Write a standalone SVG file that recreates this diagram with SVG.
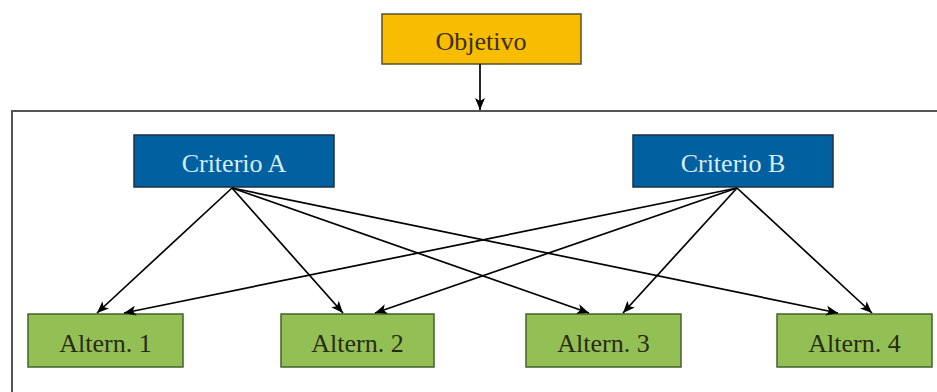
<svg xmlns="http://www.w3.org/2000/svg" width="937" height="392" viewBox="0 0 937 392">
<defs>
<marker id="ah" viewBox="0 0 12 10" refX="12" refY="5" markerWidth="12" markerHeight="10" markerUnits="userSpaceOnUse" orient="auto">
<path d="M0,0 L12,5 L0,10 L3,5 Z" fill="#000"/>
</marker>
<style>
.t{font-family:"Liberation Serif","DejaVu Serif",serif;font-size:26px;text-anchor:middle}
.obj{fill:#F8BC00;stroke:#5a5030;stroke-width:1.5}
.cri{fill:#0060A0;stroke:#1c3046;stroke-width:1.5}
.alt{fill:#93C054;stroke:#45622a;stroke-width:1.5}
.c line{stroke:#000;stroke-width:1.7;marker-end:url(#ah)}
</style>
</defs>
<rect width="937" height="392" fill="#fff"/>
<path d="M12,392 L12,111 L937,111" fill="none" stroke="#555" stroke-width="2"/>
<g id="objetivo"><rect class="obj" x="382" y="14" width="199" height="50"/><text class="t" x="481" y="50" fill="#3a3000">Objetivo</text></g>
<g id="criterioA"><rect class="cri" x="134" y="135" width="200" height="52"/><text class="t" x="234" y="172" fill="#d6ecf8">Criterio A</text></g>
<g id="criterioB"><rect class="cri" x="633" y="135" width="200" height="52"/><text class="t" x="733" y="172" fill="#d6ecf8">Criterio B</text></g>
<g id="alt1"><rect class="alt" x="28" y="314" width="155" height="53"/><text class="t" x="105.5" y="352" fill="#2a2a10">Altern. 1</text></g>
<g id="alt2"><rect class="alt" x="281" y="314" width="153" height="53"/><text class="t" x="357.5" y="352" fill="#2a2a10">Altern. 2</text></g>
<g id="alt3"><rect class="alt" x="526" y="314" width="155" height="53"/><text class="t" x="603.5" y="352" fill="#2a2a10">Altern. 3</text></g>
<g id="alt4"><rect class="alt" x="777" y="314" width="155" height="53"/><text class="t" x="854.5" y="352" fill="#2a2a10">Altern. 4</text></g>
<g id="connectors" class="c">
<line x1="480" y1="64" x2="480" y2="110"/>
<line x1="232" y1="188" x2="97" y2="313"/>
<line x1="232" y1="188" x2="343" y2="313"/>
<line x1="232" y1="188" x2="589" y2="313"/>
<line x1="232" y1="188" x2="838" y2="313"/>
<line x1="737" y1="188" x2="124" y2="313"/>
<line x1="737" y1="188" x2="375" y2="313"/>
<line x1="737" y1="188" x2="623" y2="313"/>
<line x1="737" y1="188" x2="872" y2="313"/>
</g>
</svg>
